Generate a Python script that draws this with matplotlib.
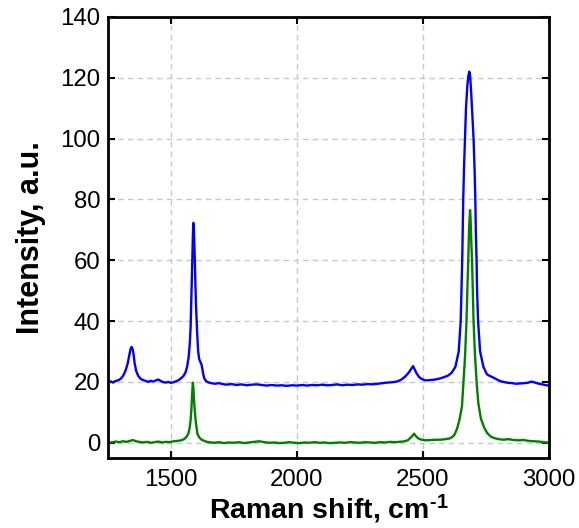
import numpy as np
import matplotlib
matplotlib.use("Agg")
import matplotlib.pyplot as plt

plt.rcParams['font.family'] = ['Liberation Sans', 'DejaVu Sans']
plt.rcParams['mathtext.fontset'] = 'custom'
plt.rcParams['mathtext.rm'] = 'Liberation Sans:bold'
plt.rcParams['mathtext.bf'] = 'Liberation Sans:bold'
plt.rcParams['mathtext.default'] = 'bf'

# upper spectrum (blue)
blue_x = [1250, 1260, 1270, 1280, 1290, 1300, 1310, 1320, 1328, 1335, 1340, 1344, 1348, 1352,
          1356, 1362, 1370, 1380, 1390, 1400, 1410, 1420, 1430, 1440, 1450, 1460, 1470, 1480,
          1490, 1500, 1510, 1520, 1530, 1540, 1550, 1558, 1564, 1570, 1575, 1578, 1581, 1584,
          1587, 1589, 1591, 1594, 1597, 1600, 1604, 1608, 1612, 1617, 1622, 1627, 1632, 1640,
          1650, 1660, 1675, 1690, 1705, 1720, 1740, 1760, 1780, 1800, 1820, 1840, 1860, 1880,
          1900, 1920, 1940, 1960, 1980, 2000, 2020, 2040, 2060, 2080, 2100, 2120, 2140, 2160,
          2180, 2200, 2220, 2240, 2260, 2280, 2300, 2320, 2340, 2360, 2380, 2400, 2415, 2430,
          2445, 2455, 2461, 2467, 2475, 2485, 2495, 2505, 2515, 2525, 2540, 2555, 2570, 2585,
          2600, 2614, 2629, 2642, 2650, 2653, 2656, 2658, 2660, 2663, 2667, 2671, 2676, 2680,
          2684, 2687, 2691, 2696, 2701, 2705, 2708, 2710, 2713, 2715, 2719, 2727, 2740, 2754,
          2765, 2780, 2790, 2800, 2810, 2825, 2840, 2855, 2870, 2885, 2900, 2915, 2930, 2945,
          2960, 2975, 2990, 3000]
blue_y = [20.0, 20.2, 19.8, 20.3, 20.5, 21.0, 22.0, 23.8, 26.0, 29.0, 31.0, 31.5, 30.8, 28.8,
          26.0, 23.6, 22.0, 21.0, 20.6, 20.3, 20.0, 20.4, 20.1, 20.5, 20.8, 20.3, 19.9, 19.8,
          20.0, 19.7, 19.9, 20.2, 20.6, 21.2, 22.0, 23.2, 25.0, 28.0, 33.0, 38.0, 48.0, 58.0,
          68.0, 72.3, 70.0, 62.0, 52.0, 44.0, 36.0, 30.0, 27.5, 26.5, 25.5, 23.0, 21.2, 20.2,
          19.8, 19.6, 19.4, 19.6, 19.3, 19.1, 19.3, 19.0, 19.2, 18.9, 19.1, 19.2, 19.0, 18.8,
          19.0, 18.8, 18.9, 18.7, 18.9, 18.8, 19.0, 18.8, 19.0, 18.9, 19.1, 18.9, 19.0, 19.2,
          18.9, 19.1, 19.0, 19.2, 19.1, 19.3, 19.2, 19.4, 19.6, 19.8, 19.9, 20.2, 20.8, 21.8,
          23.2, 24.5, 25.2, 24.2, 22.8, 21.6, 21.0, 20.6, 20.5, 20.6, 20.7, 20.9, 21.2, 21.6,
          22.1, 23.0, 25.0, 30.0, 40.0, 50.0, 60.0, 70.0, 80.0, 90.0, 100.0, 110.0, 117.0, 120.5,
          122.0, 121.0, 116.0, 108.0, 100.0, 90.0, 80.0, 70.0, 60.0, 50.0, 40.0, 30.0, 25.0, 22.5,
          22.0, 21.4, 21.0, 20.5, 20.2, 19.9, 19.7, 19.6, 19.4, 19.5, 19.6, 19.7, 20.1, 19.8,
          19.4, 19.2, 18.9, 18.8]

# lower spectrum (green)
green_x = [1250, 1265, 1280, 1295, 1310, 1325, 1340, 1350, 1360, 1375, 1390, 1405, 1420, 1435,
           1450, 1465, 1480, 1495, 1510, 1525, 1540, 1552, 1562, 1569, 1574, 1578, 1581, 1584,
           1587, 1589, 1592, 1595, 1599, 1605, 1612, 1622, 1635, 1650, 1670, 1690, 1710, 1730,
           1750, 1770, 1790, 1810, 1830, 1850, 1870, 1890, 1910, 1930, 1950, 1970, 1990, 2010,
           2030, 2050, 2070, 2090, 2110, 2130, 2150, 2170, 2190, 2210, 2230, 2250, 2270, 2290,
           2310, 2330, 2350, 2370, 2390, 2405, 2420, 2440, 2455, 2465, 2472, 2482, 2495, 2510,
           2530, 2550, 2570, 2590, 2605, 2615, 2625, 2635, 2645, 2655, 2661, 2667, 2673, 2677,
           2680, 2683, 2687, 2689, 2692, 2695, 2698, 2701, 2706, 2713, 2720, 2730, 2743, 2755,
           2770, 2785, 2800, 2820, 2840, 2860, 2880, 2900, 2920, 2940, 2960, 2980, 3000]
green_y = [0.3, 0.1, 0.4, 0.2, 0.5, 0.3, 0.7, 0.9, 0.5, 0.3, 0.1, 0.3, 0.0, 0.2,
           0.4, 0.1, 0.3, 0.2, 0.5, 0.6, 0.8, 1.2, 2.0, 3.0, 4.8, 7.5, 11.0, 16.0,
           19.8, 18.0, 13.5, 10.0, 6.5, 3.0, 1.8, 1.0, 0.5, 0.2, 0.0, 0.2, -0.1, 0.1,
           0.0, 0.2, -0.1, 0.1, 0.3, 0.5, 0.2, 0.0, 0.1, -0.1, 0.0, 0.2, 0.0, -0.1,
           0.1, 0.0, 0.2, 0.0, 0.1, -0.1, 0.0, 0.1, 0.0, 0.2, 0.1, 0.0, 0.2, 0.1,
           0.0, 0.2, 0.1, 0.3, 0.2, 0.3, 0.4, 0.8, 2.0, 3.0, 2.2, 1.4, 1.0, 0.8,
           0.9, 1.0, 1.0, 1.2, 1.4, 1.8, 2.6, 4.5, 7.5, 12.0, 20.0, 28.0, 40.0, 52.0,
           60.0, 70.0, 76.5, 74.0, 66.0, 60.0, 50.0, 40.0, 30.0, 20.0, 13.0, 8.0, 5.0, 3.2,
           2.0, 1.5, 1.2, 1.0, 1.2, 0.9, 0.8, 0.9, 0.6, 0.5, 0.4, 0.2, 0.0]

fig = plt.figure(figsize=(5.79, 5.28), dpi=100)
ax = fig.add_axes([0.1865, 0.1326, 0.7615, 0.8354])

ax.plot(blue_x, blue_y, color=(0, 0, 1), linewidth=1.7)
ax.plot(green_x, green_y, color=(0, 0.5, 0), linewidth=1.7)

ax.set_xlim(1250, 3000)
ax.set_ylim(-5, 140)
ax.set_xticks([1500, 2000, 2500, 3000])
ax.set_yticks(np.arange(0, 141, 20))
ax.grid(True, color='#c8c8c8', linestyle=(0, (4, 3)), linewidth=1.0)
ax.set_axisbelow(True)

for s in ax.spines.values():
    s.set_linewidth(2.0)
ax.tick_params(direction='in', top=True, right=True, length=5, width=1.5,
               labelsize=17.3)
ax.tick_params(axis='y', pad=5.5)
ax.tick_params(axis='x', pad=8)

ax.set_xlabel(r'Raman shift, cm$^{\text{-}1}$', fontsize=20.5, fontweight='bold', labelpad=1)
ax.set_ylabel('Intensity, a.u.', fontsize=22, fontweight='bold', labelpad=10)

fig.savefig("out.png", dpi=100)
